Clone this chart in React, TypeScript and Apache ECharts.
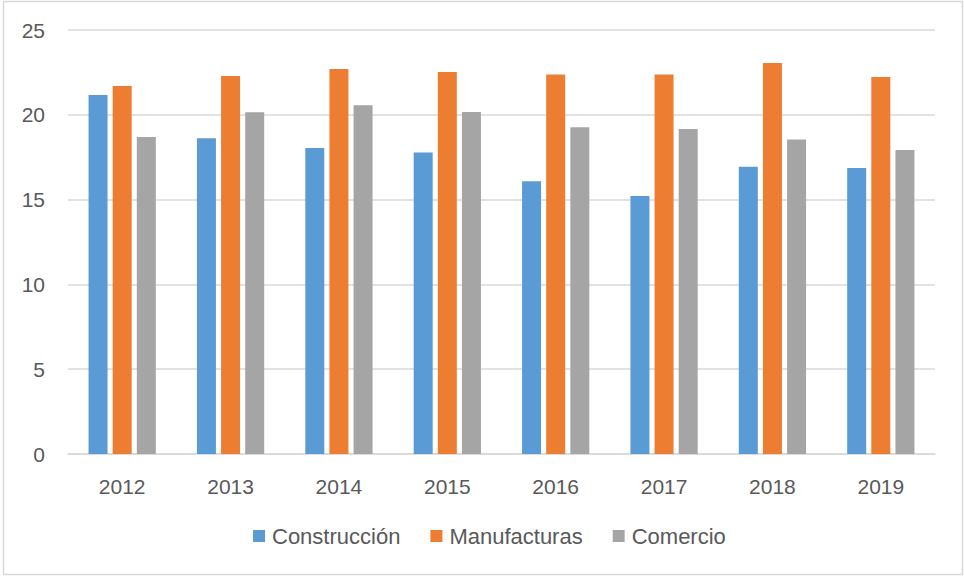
import React, { useEffect, useRef } from "react";
import * as echarts from "echarts";

const years = ["2012", "2013", "2014", "2015", "2016", "2017", "2018", "2019"];
const construccion = [21.17, 18.61, 18.04, 17.77, 16.08, 15.21, 16.94, 16.86];
const manufacturas = [21.7, 22.29, 22.7, 22.52, 22.37, 22.37, 23.05, 22.23];
const comercio = [18.69, 20.15, 20.56, 20.17, 19.26, 19.16, 18.55, 17.92];
const yTicks = { min: 0, max: 25, interval: 5 };

const FONT = "'Liberation Sans', 'DejaVu Sans', sans-serif";
const TEXT = "#595959";

export default function App() {
  const ref = useRef<HTMLDivElement>(null);
  useEffect(() => {
    document.body.style.margin = "0";
    const chart = echarts.init(ref.current!, null, { renderer: "svg" });
    const bar = (name: string, data: number[], color: string) => ({
      name,
      type: "bar",
      data,
      barWidth: 19,
      barGap: "27%",
      itemStyle: { color },
    });
    chart.setOption({
      animation: false,
      backgroundColor: "#ffffff",
      textStyle: { fontFamily: FONT },
      graphic: [
        {
          type: "rect",
          shape: { x: 3.5, y: 1.5, width: 959, height: 573 },
          style: { fill: "none", stroke: "#D9D9D9", lineWidth: 1.5 },
          silent: true,
        },
      ],
      grid: { left: 68, right: 29, top: 30, bottom: 123, containLabel: false },
      legend: {
        data: ["Construcción", "Manufacturas", "Comercio"],
        bottom: 25,
        left: 248,
        padding: [5, 0, 5, 5],
        itemWidth: 12,
        itemHeight: 12,
        itemGap: 30,
        icon: "rect",
        textStyle: { color: TEXT, fontSize: 22, fontFamily: FONT, padding: [0, 0, 0, 2] },
      },
      xAxis: {
        type: "category",
        data: years,
        axisLine: { lineStyle: { color: "#D9D9D9", width: 1.5 } },
        axisTick: { show: false },
        axisLabel: { color: TEXT, fontSize: 21, fontFamily: FONT, margin: 22 },
      },
      yAxis: {
        type: "value",
        min: yTicks.min,
        max: yTicks.max,
        interval: yTicks.interval,
        axisLine: { show: false },
        axisTick: { show: false },
        axisLabel: { color: TEXT, fontSize: 21, fontFamily: FONT, margin: 23 },
        splitLine: { lineStyle: { color: "#D9D9D9", width: 1.5 } },
      },
      series: [
        bar("Construcción", construccion, "#5B9BD5"),
        bar("Manufacturas", manufacturas, "#ED7D31"),
        bar("Comercio", comercio, "#A5A5A5"),
      ],
    });
    return () => chart.dispose();
  }, []);
  return (
    <div
      ref={ref}
      style={{ position: "absolute", left: 0, top: 0, width: 964, height: 577 }}
    />
  );
}
